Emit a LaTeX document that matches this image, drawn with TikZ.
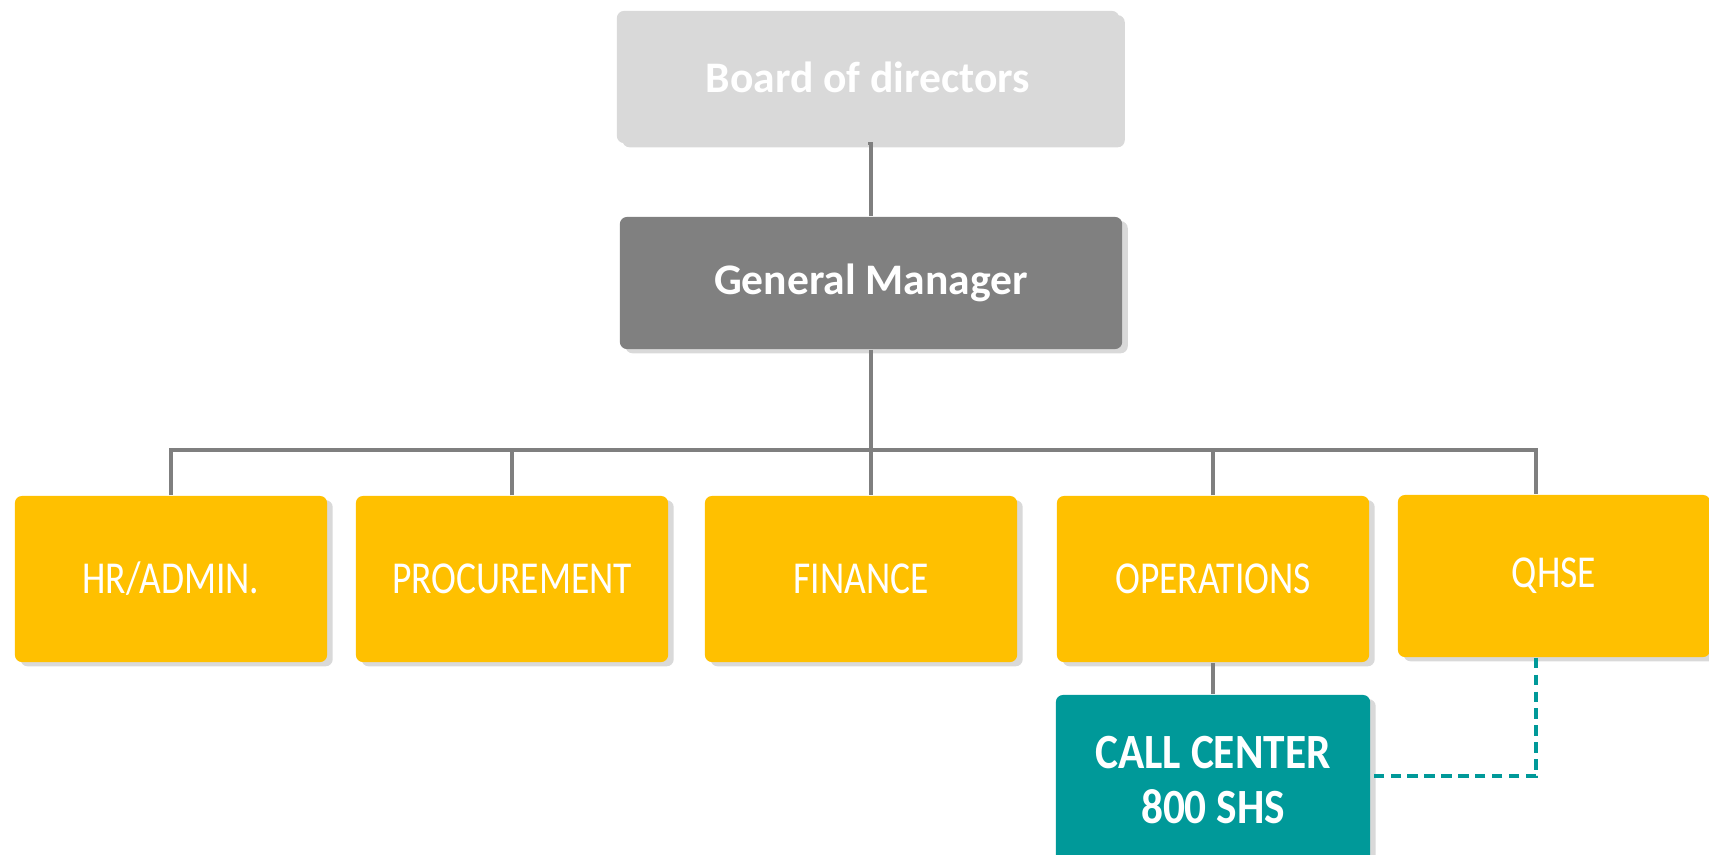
\documentclass[tikz,border=0pt]{standalone}
\usepackage{fontspec}
\setmainfont{Carlito}
\newfontfamily\narrowfont[FakeStretch=0.82]{Carlito}
\newfontfamily\ccfont[FakeStretch=0.88]{Carlito}
\usepackage{tikz}
\usetikzlibrary{calc}
\usetikzlibrary{shadows}
\definecolor{boardgray}{HTML}{D9D9D9}
\definecolor{gmgray}{HTML}{808080}
\definecolor{deptyellow}{HTML}{FFC000}
\definecolor{ccteal}{HTML}{009999}
\definecolor{linkgray}{HTML}{7F7F7F}
\tikzset{
  box/.style={rounded corners=2pt, text=white, align=center, inner sep=0pt,
    drop shadow={shadow xshift=1.6pt, shadow yshift=-1.2pt, opacity=0.3}},
  topbox/.style={box, minimum width=5.02cm, minimum height=1.32cm, font=\fontsize{12.4}{15}\selectfont\bfseries},
  deptbox/.style={box, fill=deptyellow, minimum width=3.12cm, minimum height=1.66cm, font=\narrowfont\fontsize{13}{16}\selectfont},
  link/.style={draw=linkgray, line width=0.9pt},
  dotlink/.style={draw=ccteal, line width=1pt, dash pattern=on 3pt off 1.8pt}
}

\begin{document}
\begin{tikzpicture}[x=0.01cm, y=-0.01cm]
    \useasboundingbox (0,0) rectangle (1709,854);
    % top
    \node[topbox, fill=boardgray] (board) at (868,77) {Board of directors};
    \node[topbox, fill=gmgray] (gm) at (871,283) {General Manager};
    % departments
    \node[deptbox] (hr) at (171,579) {HR/ADMIN.};
    \node[deptbox] (proc) at (512,579) {PROCUREMENT};
    \node[deptbox] (fin) at (861,579) {FINANCE};
    \node[deptbox] (ops) at (1213,579) {OPERATIONS};
    \node[deptbox, minimum height=1.62cm] (qhse) at (1554,576) {QHSE};
    % call center
    \node[box, fill=ccteal, minimum width=3.14cm, minimum height=1.7cm,
      font=\ccfont\bfseries\fontsize{14}{15.6}\selectfont] (cc) at (1213,780) {CALL CENTER\\800 SHS};
    % links
    \coordinate (bus) at (0,450);
    \coordinate (qtop) at ($(qhse.north)+(-18,0)$);
    \coordinate (qbot) at ($(qhse.south)+(-18,0)$);
    \draw[link] (board.south) -- (gm.south |- board.south) -- (gm.north);
    \draw[link] (gm.south) -- (gm.south |- fin.north);
    \draw[link] (hr.north) |- (bus -| qtop) -- (qtop);
    \draw[link] (proc.north) -- (proc.north |- bus);
    \draw[link] (ops.north) -- (ops.north |- bus);
    \draw[link] (ops.south) -- (cc.north);
    \draw[dotlink] (qbot) |- ($(cc.east)+(0,-4)$);
\end{tikzpicture}
\end{document}
